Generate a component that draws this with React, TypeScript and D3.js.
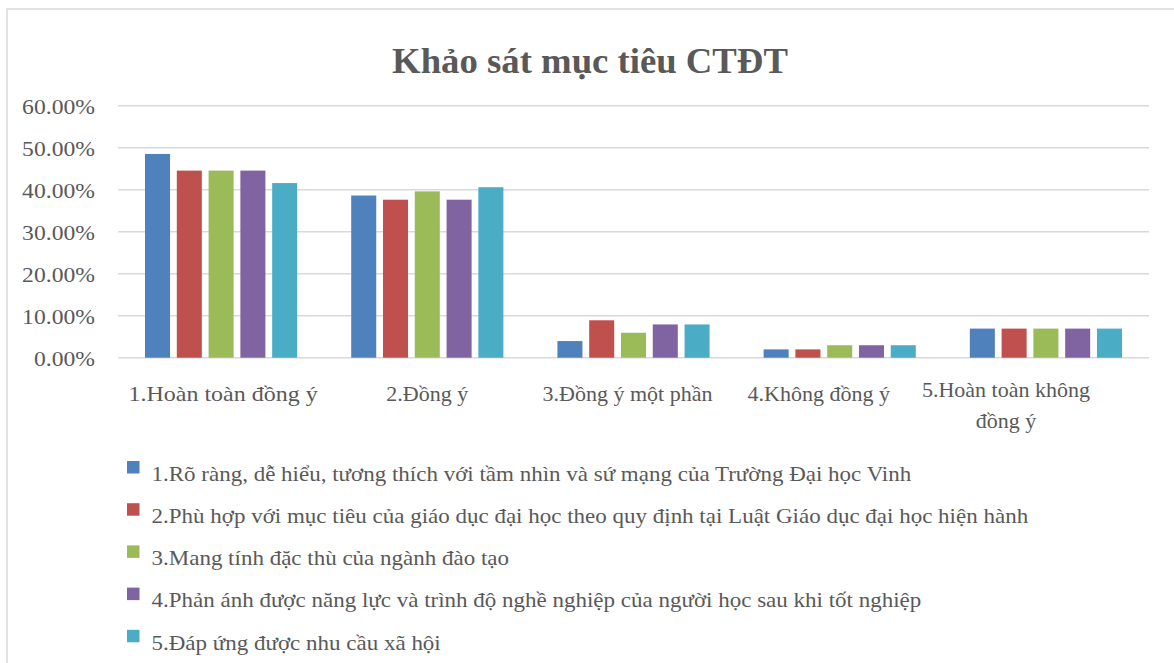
import React from "react";
import * as d3 from "d3";

// ---------- DATA ----------
const categories: string[][] = [
  ["1.Hoàn toàn đồng ý"],
  ["2.Đồng ý"],
  ["3.Đồng ý một phần"],
  ["4.Không đồng ý"],
  ["5.Hoàn toàn không", "đồng ý"],
];
const seriesNames: string[] = [
  "1.Rõ ràng, dễ hiểu, tương thích với tầm nhìn và sứ mạng của Trường Đại học Vinh",
  "2.Phù hợp với mục tiêu của giáo dục đại học theo quy định tại Luật Giáo dục đại học hiện hành",
  "3.Mang tính đặc thù của ngành đào tạo",
  "4.Phản ánh được năng lực và trình độ nghề nghiệp của người học sau khi tốt nghiệp",
  "5.Đáp ứng được nhu cầu xã hội",
];
// values in % per series, one per category
const series1: number[] = [48.51, 38.61, 3.96, 1.98, 6.93];
const series2: number[] = [44.55, 37.62, 8.91, 1.98, 6.93];
const series3: number[] = [44.55, 39.6, 5.94, 2.97, 6.93];
const series4: number[] = [44.55, 37.62, 7.92, 2.97, 6.93];
const series5: number[] = [41.58, 40.59, 7.92, 2.97, 6.93];
const yTicks: number[] = [0, 10, 20, 30, 40, 50, 60];
const title = "Khảo sát mục tiêu CTĐT";

// ---------- STYLE / LAYOUT ----------
const W = 1174;
const H = 663;
const colors = ["#4f81bd", "#c0504d", "#9bbb59", "#8064a2", "#4bacc6"];
const FONT = "'Liberation Serif', 'Times New Roman', serif";
const TEXT = "#595959";
const GRID = "#d9d9d9";
const plot = { left: 118, right: 1149, top: 105.7, bottom: 357.7 };
const labelNudge = [2, 0, -6, -21, -40];
const labelStretch = [1.09, 1.0, 1.0, 1.0, 1.0];

export default function App() {
  const allSeries = [series1, series2, series3, series4, series5];
  const x0 = d3
    .scaleBand<number>()
    .domain(d3.range(categories.length))
    .range([plot.left, plot.right])
    .paddingInner(0)
    .paddingOuter(0);
  const outer = x0.bandwidth() * 0.131;
  const x1 = d3
    .scaleBand<number>()
    .domain(d3.range(allSeries.length))
    .range([outer, x0.bandwidth() - outer])
    .paddingInner(0.2126)
    .paddingOuter(0);
  const y = d3.scaleLinear().domain([0, 60]).range([plot.bottom, plot.top]);
  const fmt = (v: number) => v.toFixed(2) + "%";

  const legendY = d3.scaleLinear().domain([0, 1]).range([480.7, 522.9]);

  return (
    <svg
      width={W}
      height={H}
      style={{ position: "absolute", left: 0, top: 0, background: "#fff" }}
      fontFamily={FONT}
    >
      <rect x={7} y={9} width={W + 20} height={H + 20} fill="#fff" stroke={GRID} strokeWidth={1.5} />
      <text
        transform={`translate(590,73) scale(1.02,1)`}
        textAnchor="middle"
        fontSize={36}
        fontWeight="bold"
        fill={TEXT}
      >
        {title}
      </text>
      {yTicks.map((t) => (
        <g key={t}>
          <line x1={plot.left} x2={plot.right} y1={y(t)} y2={y(t)} stroke={GRID} strokeWidth={1.5} />
          <text
            transform={`translate(95,${y(t) + 8.3}) scale(1.075,1)`}
            textAnchor="end"
            fontSize={22}
            fill={TEXT}
          >
            {fmt(t)}
          </text>
        </g>
      ))}
      {categories.map((c, ci) =>
        allSeries.map((s, si) => (
          <rect
            key={ci + "-" + si}
            x={(x0(ci) as number) + (x1(si) as number)}
            y={y(s[ci])}
            width={x1.bandwidth()}
            height={y(0) - y(s[ci])}
            fill={colors[si]}
          />
        ))
      )}
      {categories.map((lines, ci) => {
        const cx = (x0(ci) as number) + x0.bandwidth() / 2 + labelNudge[ci];
        const y0 = lines.length > 1 ? 396.7 : 400.7;
        return (
          <g key={ci} transform={`translate(${cx},${y0}) scale(${labelStretch[ci]},1)`}>
            <text textAnchor="middle" fontSize={22} fill={TEXT}>
              {lines.map((l, li) => (
                <tspan key={li} x={0} y={li * 31.3}>
                  {l}
                </tspan>
              ))}
            </text>
          </g>
        );
      })}
      {seriesNames.map((n, i) => (
        <g key={i}>
          <rect x={127} y={legendY(i) - 19.7} width={12.5} height={12.5} fill={colors[i]} />
          <text
            transform={`translate(151.5,${legendY(i)}) scale(1.045,1)`}
            fontSize={22}
            fill={TEXT}
          >
            {n}
          </text>
        </g>
      ))}
    </svg>
  );
}
